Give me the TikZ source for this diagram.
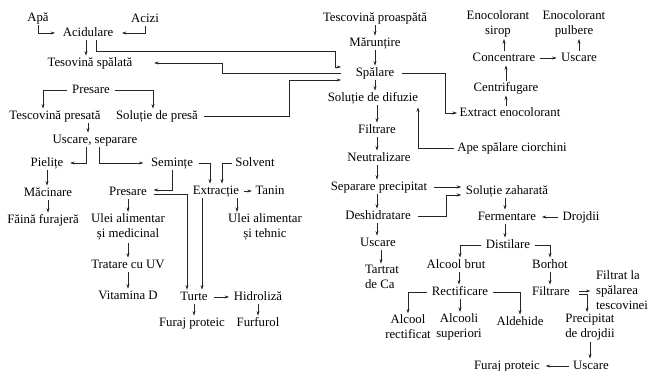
\documentclass[tikz,border=0pt]{standalone}
\usepackage{fontspec}
\setmainfont{Liberation Serif}
\usetikzlibrary{arrows.meta,calc}
\begin{document}
\begin{tikzpicture}[x=1pt,y=-1pt,
  lbl/.style={inner sep=1.5pt,font=\fontsize{12.8}{15}\selectfont,text height=9pt,text depth=2.5pt},
  lbltwo/.style={inner sep=1.5pt,font=\fontsize{12.8}{15}\selectfont,align=center},
  lblleft/.style={inner sep=1.5pt,font=\fontsize{12.8}{15}\selectfont,align=left},
  arr/.style={draw=black!85,line width=0.6pt,-{Stealth[length=4.5pt,width=3pt]}}]
\useasboundingbox (0,0) rectangle (650,371);
% ---------- left part ----------
\node[lbl] (apa) at (38,18) {Apă};
\node[lbl] (acizi) at (145,19) {Acizi};
\node[lbl] (acid) at (88,33) {Acidulare};
\node[lbl] (tesp) at (90,63) {Tesovină spălată};
\node[lbl] (presA) at (91,90) {Presare};
\node[lbl] (tpres) at (55,116) {Tescovină presată};
\node[lbl] (solp) at (157,116) {Soluție de presă};
\node[lbl] (usep) at (95,140) {Uscare, separare};
\node[lbl] (piel) at (47,163) {Pielițe};
\node[lbl] (sem) at (172,163) {Semințe};
\node[lbl] (solv) at (255,163) {Solvent};
\node[lbl] (mac) at (48,193) {Măcinare};
\node[lbl] (presB) at (128,192) {Presare};
\node[lbl] (extr) at (216,191) {Extracție};
\node[lbl] (tanin) at (270,191) {Tanin};
\node[lbl] (faina) at (43,220) {Făină furajeră};
\node[lbltwo] (uleim) at (128,227) {Ulei alimentar\\și medicinal};
\node[lbltwo] (uleit) at (265,227) {Ulei alimentar\\și tehnic};
\node[lbl] (uv) at (128,265) {Tratare cu UV};
\node[lbl] (vitd) at (128,296) {Vitamina D};
\node[lbl] (turte) at (194,297) {Turte};
\node[lbl] (hidr) at (258,297) {Hidroliză};
\node[lbl] (furajA) at (192,323) {Furaj proteic};
\node[lbl] (furf) at (258,323) {Furfurol};
% ---------- right part ----------
\node[lbl] (tpro) at (375,18) {Tescovină proaspătă};
\node[lbl] (mar) at (375,43) {Mărunțire};
\node[lbl] (spal) at (375,73) {Spălare};
\node[lbl] (soldif) at (373,98) {Soluție de difuzie};
\node[lbl] (filtA) at (377,130) {Filtrare};
\node[lbl] (neut) at (379,158) {Neutralizare};
\node[lbl] (sepp) at (379,187) {Separare precipitat};
\node[lbl] (desh) at (378,216) {Deshidratare};
\node[lbl] (uscA) at (378,243) {Uscare};
\node[lblleft] (tart) at (382,277) {Tartrat\\de Ca};
\node[lbl] (extrac) at (510,113) {Extract enocolorant};
\node[lbl] (ape) at (512,148) {Ape spălare ciorchini};
\node[lbltwo] (enos) at (498,24) {Enocolorant\\sirop};
\node[lbltwo] (enop) at (574,24) {Enocolorant\\pulbere};
\node[lbl] (conc) at (504,58) {Concentrare};
\node[lbl] (uscB) at (579,58) {Uscare};
\node[lbl] (centr) at (506,88) {Centrifugare};
\node[lbl] (solz) at (507,191) {Soluție zaharată};
\node[lbl] (ferm) at (507,217) {Fermentare};
\node[lbl] (droj) at (581,217) {Drojdii};
\node[lbl] (dist) at (508,245) {Distilare};
\node[lbl] (abrut) at (456,265) {Alcool brut};
\node[lbl] (borh) at (550,265) {Borhot};
\node[lbl] (rect) at (460,292) {Rectificare};
\node[lbl] (filtB) at (551,292) {Filtrare};
\node[lbltwo] (arect) at (408,327) {Alcool\\rectificat};
\node[lbltwo] (asup) at (459,327) {Alcooli\\superiori};
\node[lbl] (ald) at (520,322) {Aldehide};
\node[lblleft] (filtrat) at (622,290) {Filtrat la\\spălarea\\tescovinei};
\node[lbltwo] (precd) at (590,327) {Precipitat\\de drojdii};
\node[lbl] (uscC) at (591,366) {Uscare};
\node[lbl] (furajB) at (507,366) {Furaj proteic};
% ---------- connectors, left ----------
\draw[arr] (apa.south) |- ([xshift=-6pt]acid.west);
\draw[arr] (acizi.south) |- ([xshift=7pt]acid.east);
\draw[arr] ([xshift=-2pt]acid.south) -- ([xshift=-2pt]acid.south |- tesp.north);
\draw[arr] ([xshift=8pt]acid.south) |- (335,51) |- ($(spal.west)+(-13pt,6pt)$);
\draw[arr] ($(spal.west)+(-13pt,0pt)$) -| (222,63) -- ($(tesp.east)+(20pt,0)$);
\draw[arr] ([xshift=-3pt]presA.west) -| ($(tpres.north)+(-12pt,0)$);
\draw[arr] ([xshift=3pt]presA.east) -| ($(solp.north)+(-4pt,0)$);
\draw[arr] ([xshift=4pt]solp.east) -| (289,80) -- ($(spal.west)+(-13pt,-7pt)$);
\draw[arr] ($(tpres.south -| usep.north)+(-7pt,0)$) -- ($(usep.north)+(-7pt,0)$);
\draw[arr] ($(usep.south)+(-9pt,0)$) |- ($(piel.east)+(5pt,0)$);
\draw[arr] ($(usep.south)+(4pt,0)$) |- ($(sem.west)+(-6pt,0)$);
\draw[arr] ($(sem.east)+(4pt,0)$) -| ($(extr.north)+(-6pt,0)$);
\draw[arr] ($(solv.west)+(-2pt,0)$) -| ($(extr.north)+(6pt,0)$);
\draw[arr] (sem.south) |- ($(presB.east)+(5pt,2pt)$);
\draw[arr] ($(presB.east)+(5pt,-2pt)$) -| ($(turte.north)+(-7pt,0)$);
\draw[arr] ($(extr.south -| turte.north)+(8pt,0)$) -- ($(turte.north)+(8pt,0)$);
\draw[arr] ($(extr.east)+(3pt,0)$) -- ($(tanin.west)+(-2pt,0)$);
\draw[arr] ($(extr.south -| uleit.north)+(-28pt,0)$) -- ($(uleit.north)+(-28pt,0)$);
\draw[arr] (piel.south) -- (piel.south |- mac.north);
\draw[arr] (mac.south) -- (mac.south |- faina.north);
\draw[arr] (presB.south) -- (uleim.north);
\draw[arr] ($(uleim.south)+(0,-1pt)$) -- (uv.north);
\draw[arr] (uv.south) -- (vitd.north);
\draw[arr] ($(turte.east)+(5pt,0)$) -- ($(hidr.west)+(-3pt,0)$);
\draw[arr] (turte.south) -- (turte.south |- furajA.north);
\draw[arr] (hidr.south) -- (furf.north);
% ---------- connectors, right ----------
\draw[arr] (tpro.south) -- (mar.north);
\draw[arr] (mar.south) -- (spal.north);
\draw[arr] (spal.south) -- (spal.south |- soldif.north);
\draw[arr] ($(spal.east)+(6pt,0)$) -| ($(extrac.west)+(-13pt,0)$) -- ($(extrac.west)+(-1pt,0)$);
\draw[arr] ($(ape.west)+(-2pt,0)$) -| ($(soldif.south)+(45pt,-2pt)$);
\draw[arr] (soldif.south -| filtA.north) -- (filtA.north);
\draw[arr] (filtA.south) -- (filtA.south |- neut.north);
\draw[arr] (filtA.south |- neut.south) -- (filtA.south |- sepp.north);
\draw[arr] (filtA.south |- sepp.south) -- (filtA.south |- desh.north);
\draw[arr] (filtA.south |- desh.south) -- (filtA.south |- uscA.north);
\draw[arr] ($(uscA.south)+(3pt,0)$) -- ($(uscA.south |- tart.north)+(3pt,0)$);
\draw[arr] ($(sepp.east)+(5pt,0)$) -- ($(solz.west)+(-3pt,4pt)$);
\draw[arr] ($(desh.east)+(6pt,0)$) -| ($(solz.west)+(-18pt,-4pt)$) -- ($(solz.west)+(-3pt,-4pt)$);
\draw[arr] ($(solz.south)+(-2pt,0)$) -- ($(solz.south |- ferm.north)+(-2pt,0)$);
\draw[arr] ($(droj.west)+(-3pt,0)$) -- ($(ferm.east)+(4pt,0)$);
\draw[arr] ($(ferm.south)+(-2pt,0)$) -- ($(ferm.south |- dist.north)+(-2pt,0)$);
\draw[arr] ($(dist.west)+(-3pt,0)$) -| ($(abrut.north)+(4pt,0)$);
\draw[arr] ($(dist.east)+(3pt,0)$) -| (borh.north);
\draw[arr] ($(abrut.south)+(3pt,0)$) -- ($(abrut.south |- rect.north)+(3pt,0)$);
\draw[arr] ($(rect.west)+(-3pt,0)$) -| (arect.north);
\draw[arr] (rect.south) -- (rect.south |- asup.north);
\draw[arr] ($(rect.east)+(3pt,0)$) -| (ald.north);
\draw[arr] (borh.south) -- (borh.south |- filtB.north);
\draw[arr] ($(filtB.east)+(7pt,1pt)$) -- ($(filtB.east -| filtrat.west)+(-4pt,1pt)$);
\draw[arr] ($(filtB.east)+(7pt,-2pt)$) -| ($(precd.north)+(-3pt,0)$);
\draw[arr] (precd.south) -- (precd.south |- uscC.north);
\draw[arr] ($(uscC.west)+(-3pt,0)$) -- ($(furajB.east)+(4pt,0)$);
\draw[arr] (extrac.north -| centr.south) -- (centr.south);
\draw[arr] (centr.north) -- (centr.north |- conc.south);
\draw[arr] (conc.north) -- (conc.north |- enos.south);
\draw[arr] ($(conc.east)+(3pt,0)$) -- ($(uscB.west)+(-3pt,0)$);
\draw[arr] (uscB.north) -- (uscB.north |- enop.south);
\end{tikzpicture}
\end{document}
